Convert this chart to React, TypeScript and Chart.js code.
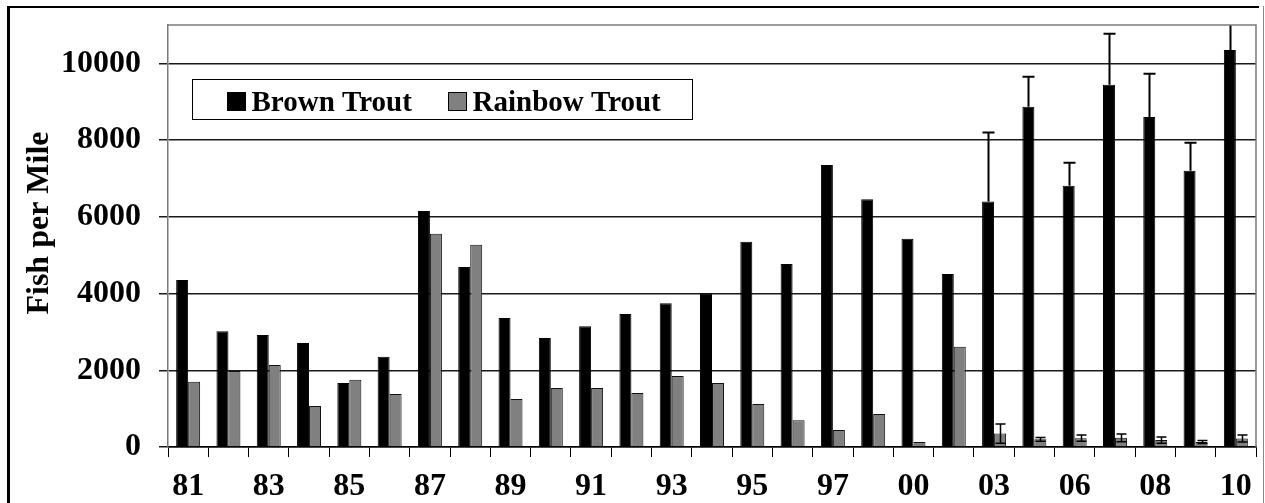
import React, { useEffect, useRef } from 'react';
import { Chart, registerables } from 'chart.js';

Chart.register(...registerables);

const years = [
  '81', '82', '83', '84', '85', '86', '87', '88', '89', '90', '91', '92', '93', '94',
  '95', '96', '97', '98', '00', '02', '03', '04', '06', '07', '08', '09', '10',
];
const brownTrout = [
  4350, 3020, 2920, 2710, 1670, 2350, 6150, 4690, 3360, 2840, 3150, 3470, 3750, 4010,
  5350, 4770, 7350, 6460, 5430, 4510, 6400, 8870, 6810, 9440, 8600, 7200, 10350,
];
const rainbowTrout = [
  1700, 1980, 2140, 1070, 1750, 1380, 5560, 5270, 1250, 1540, 1540, 1410, 1850, 1670,
  1120, 700, 440, 860, 130, 2610, 350, 200, 230, 240, 180, 130, 220,
];
const brownErr: (number | null)[] = [
  null, null, null, null, null, null, null, null, null, null, null, null, null, null,
  null, null, null, null, null, null, 1800, 780, 600, 1330, 1130, 730, 900,
];
const rainbowErr: (number | null)[] = [
  null, null, null, null, null, null, null, null, null, null, null, null, null, null,
  null, null, null, null, null, null, 250, 50, 80, 100, 80, 40, 90,
];
const yTickValues = [0, 2000, 4000, 6000, 8000, 10000];
const yAxisMax = 11000;
const yAxisTitle = 'Fish per Mile';

const FONT = '"Liberation Serif", "Times New Roman", serif';

const framePlugin = {
  id: 'frame',
  beforeDraw(chart: any) {
    const ctx = chart.ctx;
    ctx.save();
    ctx.fillStyle = '#fff';
    ctx.fillRect(0, 0, chart.width, chart.height);
    ctx.strokeStyle = '#000';
    ctx.lineWidth = 2;
    ctx.beginPath();
    ctx.moveTo(8.5, chart.height + 5);
    ctx.lineTo(8.5, 7);
    ctx.lineTo(1259, 7);
    ctx.stroke();
    ctx.lineWidth = 3;
    ctx.beginPath();
    ctx.moveTo(8.5, chart.height + 5);
    ctx.lineTo(8.5, 6);
    ctx.stroke();
    ctx.strokeStyle = '#888';
    ctx.lineWidth = 1;
    ctx.beginPath();
    ctx.moveTo(1263.5, 6);
    ctx.lineTo(1263.5, chart.height + 5);
    ctx.stroke();
    ctx.restore();
  },
  afterDraw(chart: any) {
    const ctx = chart.ctx;
    const a = chart.chartArea;
    ctx.save();
    ctx.strokeStyle = '#7a7a7a';
    ctx.lineWidth = 1.5;
    ctx.beginPath();
    ctx.moveTo(a.left, a.top);
    ctx.lineTo(a.right, a.top);
    ctx.lineTo(a.right, a.bottom);
    ctx.stroke();
    // y axis title
    ctx.translate(40, (a.top + a.bottom) / 2 - 13);
    ctx.rotate(-Math.PI / 2);
    ctx.font = `bold 32px ${FONT}`;
    ctx.fillStyle = '#000';
    ctx.textAlign = 'center';
    ctx.textBaseline = 'middle';
    ctx.fillText(yAxisTitle, 0, 0);
    ctx.restore();
  },
};

const errorBarPlugin = {
  id: 'errorBars',
  afterDatasetsDraw(chart: any) {
    const ctx = chart.ctx;
    const y = chart.scales.y;
    const a = chart.chartArea;
    ctx.save();
    ctx.beginPath();
    ctx.rect(a.left, a.top, a.right - a.left, a.bottom - a.top);
    ctx.clip();
    chart.data.datasets.forEach((ds: any, di: number) => {
      const errs = ds.errors;
      if (!errs) return;
      const meta = chart.getDatasetMeta(di);
      meta.data.forEach((bar: any, i: number) => {
        const e = errs[i];
        if (e == null) return;
        const v = ds.data[i];
        const x = Math.round(bar.x) + 0.5;
        const yTop = y.getPixelForValue(v + e);
        const yBot = ds.errBoth ? y.getPixelForValue(Math.max(0, v - e)) : y.getPixelForValue(v);
        const cw = ds.capWidth / 2;
        ctx.strokeStyle = '#000';
        ctx.lineWidth = ds.errWidth;
        ctx.beginPath();
        ctx.moveTo(x, yTop);
        ctx.lineTo(x, yBot);
        ctx.moveTo(x - cw, yTop);
        ctx.lineTo(x + cw, yTop);
        if (ds.errBoth) {
          ctx.moveTo(x - cw, yBot);
          ctx.lineTo(x + cw, yBot);
        }
        ctx.stroke();
      });
    });
    ctx.restore();
  },
};

const legendPlugin = {
  id: 'boxLegend',
  afterDraw(chart: any) {
    const ctx = chart.ctx;
    const a = chart.chartArea;
    const bx = a.left + 24.5;
    const by = a.top + 54.5;
    const bw = 500;
    const bh = 40;
    ctx.save();
    ctx.fillStyle = '#fff';
    ctx.fillRect(bx, by, bw, bh);
    ctx.strokeStyle = '#000';
    ctx.lineWidth = 1;
    ctx.strokeRect(bx, by, bw, bh);
    ctx.font = `bold 29px ${FONT}`;
    ctx.textBaseline = 'alphabetic';
    ctx.textAlign = 'left';
    const starts = [bx + 35, bx + 256];
    chart.data.datasets.forEach((ds: any, i: number) => {
      const sx = starts[i];
      ctx.fillStyle = ds.backgroundColor;
      ctx.fillRect(sx, by + 13, 18, 18);
      ctx.strokeStyle = '#000';
      ctx.lineWidth = 1;
      ctx.strokeRect(sx, by + 13, 18, 18);
      ctx.fillStyle = '#000';
      ctx.fillText(ds.label, sx + 24, by + 31);
    });
    ctx.restore();
  },
};

export default function App() {
  const ref = useRef<HTMLCanvasElement | null>(null);

  useEffect(() => {
    if (!ref.current) return;
    const chart = new Chart(ref.current, {
      type: 'bar',
      data: {
        labels: years,
        datasets: [
          {
            label: 'Brown Trout',
            data: brownTrout,
            backgroundColor: '#000000',
            borderColor: '#000000',
            borderWidth: 1,
            errors: brownErr,
            errBoth: false,
            errWidth: 2,
            capWidth: 12,
          } as any,
          {
            label: 'Rainbow Trout',
            data: rainbowTrout,
            backgroundColor: '#808080',
            borderColor: '#111111',
            borderWidth: 1,
            errors: rainbowErr,
            errBoth: true,
            errWidth: 1.5,
            capWidth: 10,
          } as any,
        ],
      },
      options: {
        animation: false,
        responsive: false,
        categoryPercentage: 0.595,
        barPercentage: 1.0,
        layout: { padding: { left: 16, top: 25, right: 9, bottom: 0 } },
        plugins: {
          legend: { display: false },
          tooltip: { enabled: false },
        },
        scales: {
          x: {
            offset: true,
            grid: {
              offset: true,
              drawOnChartArea: false,
              drawTicks: true,
              tickLength: 10,
              color: '#000',
              lineWidth: 1,
            },
            border: { color: '#000', width: 1.5 },
            ticks: {
              autoSkip: false,
              maxRotation: 0,
              minRotation: 0,
              padding: 11,
              color: '#000',
              font: { family: FONT, size: 32, weight: 'bold' },
              callback: (_v: any, i: number) => (i % 2 === 0 ? years[i] : ''),
            },
            afterFit: (scale: any) => {
              scale.height = 56;
              scale.paddingLeft = 0;
              scale.paddingRight = 0;
            },
          },
          y: {
            min: 0,
            max: yAxisMax,
            afterBuildTicks: (axis: any) => {
              axis.ticks = yTickValues.map((v) => ({ value: v }));
            },
            grid: {
              color: '#1a1a1a',
              lineWidth: 1.5,
              drawTicks: true,
              tickLength: 9,
            },
            border: { color: '#7a7a7a', width: 1.5 },
            ticks: {
              padding: 18,
              color: '#000',
              font: { family: FONT, size: 32, weight: 'bold' },
              callback: (v: any) => String(v),
            },
            title: { display: false },
            afterFit: (scale: any) => {
              scale.width = 152;
              scale.paddingTop = 0;
              scale.paddingBottom = 0;
            },
          },
        },
      } as any,
      plugins: [framePlugin, errorBarPlugin, legendPlugin],
    });
    return () => chart.destroy();
  }, []);

  return (
    <div style={{ position: 'fixed', left: 0, top: 0, width: 1265, height: 503 }}>
      <canvas ref={ref} width={1265} height={503} style={{ display: 'block' }} />
    </div>
  );
}
